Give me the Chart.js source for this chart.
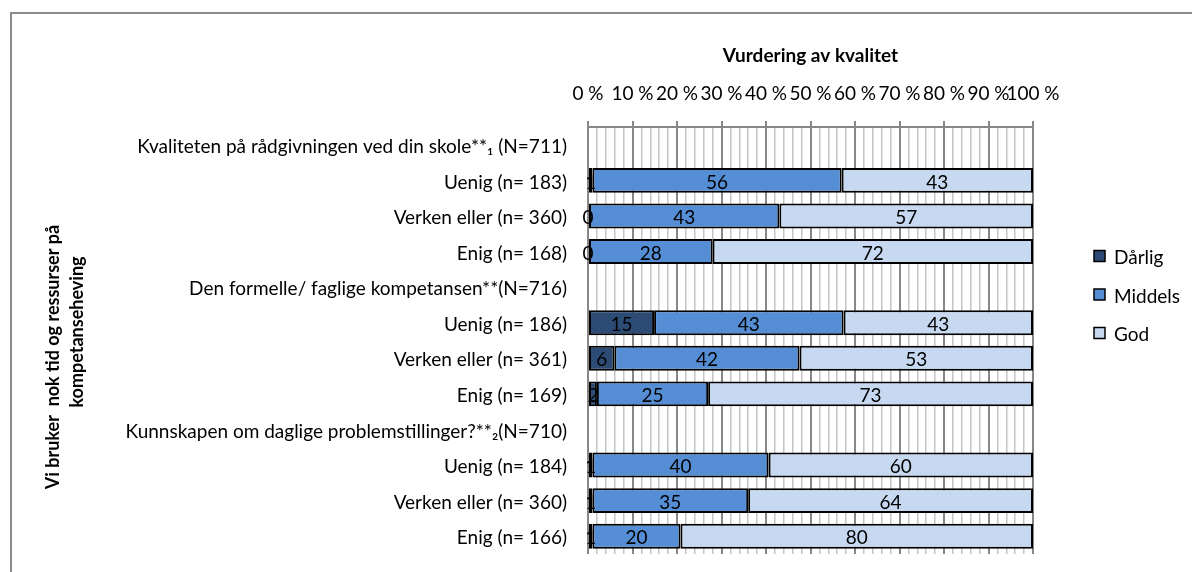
<!DOCTYPE html>
<html>
<head>
<meta charset="utf-8">
<script src="https://cdn.jsdelivr.net/npm/chart.js@4.4.1/dist/chart.umd.min.js"></script>
<style>
  html, body { margin: 0; padding: 0; background: #fff; }
  #wrap { position: relative; width: 1192px; height: 572px; overflow: hidden; }
  #frame { position: absolute; left: 10px; top: 12px; width: 1300px; height: 700px;
           border-left: 2px solid #8c8c8c; border-top: 2px solid #8c8c8c; }
  canvas { position: absolute; left: 0; top: 0; }
</style>
</head>
<body>
<div id="wrap">
  <div id="frame"></div>
  <canvas id="chart" width="1192" height="572"></canvas>
</div>
<script>
// --- DATA ---
const categories = [
  "Kvaliteten på rådgivningen ved din skole**\u2081 (N=711)",
  "Uenig (n= 183)",
  "Verken eller (n= 360)",
  "Enig (n= 168)",
  "Den formelle/ faglige kompetansen**(N=716)",
  "Uenig (n= 186)",
  "Verken eller (n= 361)",
  "Enig (n= 169)",
  "Kunnskapen om daglige problemstillinger?**\u2082(N=710)",
  "Uenig (n= 184)",
  "Verken eller (n= 360)",
  "Enig (n= 166)"
];
const seriesNames = ["Dårlig", "Middels", "God"];
const darlig  = [null, 1, 0, 0, null, 15, 6, 2, null, 1, 1, 1];
const middels = [null, 56, 43, 28, null, 43, 42, 25, null, 40, 35, 20];
const god     = [null, 43, 57, 72, null, 43, 53, 73, null, 60, 64, 80];
const xTicks = [0, 10, 20, 30, 40, 50, 60, 70, 80, 90, 100];
const yTitle = ["Vi bruker  nok tid og ressurser på", "kompetanseheving"];

const FONT = "Lato, 'Open Sans', sans-serif";

// rows are shown as 100 % stacked, like the original
const rowTotals = categories.map((c, i) =>
  darlig[i] == null ? null : darlig[i] + middels[i] + god[i]);
const toShare = (arr) => arr.map((v, i) => v == null ? null : v / rowTotals[i] * 100);

// textured navy fill for "Dårlig"
function makePattern() {
  const p = document.createElement("canvas");
  p.width = 4; p.height = 4;
  const c = p.getContext("2d");
  c.fillStyle = "#2d4d76";
  c.fillRect(0, 0, 4, 4);
  c.fillStyle = "#24416a";
  c.fillRect(0, 0, 1, 1);
  c.fillRect(2, 2, 1, 1);
  return c.createPattern(p, "repeat");
}
const darligFill = makePattern();
const colors = [darligFill, "#558ed5", "#c6d9f1"];
const swatch = ["#2b4a72", "#558ed5", "#c6d9f1"];
const rawSeries = [darlig, middels, god];

// --- PLUGINS ---
const valueLabels = {
  id: "valueLabels",
  afterDatasetsDraw(chart) {
    const ctx = chart.ctx;
    ctx.save();
    ctx.font = "19px " + FONT;
    ctx.fillStyle = "#000";
    ctx.textAlign = "center";
    ctx.textBaseline = "middle";
    chart.data.datasets.forEach((ds, di) => {
      const meta = chart.getDatasetMeta(di);
      meta.data.forEach((el, i) => {
        const raw = rawSeries[di][i];
        if (raw == null) return;
        ctx.fillText(String(raw), (el.x + el.base) / 2, el.y + 2);
      });
    });
    ctx.restore();
  }
};

// two-line rotated axis title, each line placed like in the original
const sideTitle = {
  id: "sideTitle",
  afterDraw(chart) {
    const ctx = chart.ctx;
    const spots = [[53, 357], [77, 332]];
    ctx.save();
    ctx.font = "bold 18px " + FONT;
    ctx.fillStyle = "#000";
    ctx.textAlign = "center";
    ctx.textBaseline = "middle";
    yTitle.forEach((line, i) => {
      ctx.save();
      ctx.translate(spots[i][0], spots[i][1]);
      ctx.rotate(-Math.PI / 2);
      ctx.fillText(line, 0, 0);
      ctx.restore();
    });
    ctx.restore();
  }
};

const sideLegend = {
  id: "sideLegend",
  afterDraw(chart) {
    const ctx = chart.ctx;
    ctx.save();
    ctx.font = "19px " + FONT;
    ctx.textBaseline = "middle";
    ctx.textAlign = "left";
    seriesNames.forEach((name, i) => {
      const y = 256 + i * 38.5;
      ctx.fillStyle = swatch[i];
      ctx.fillRect(1094, y - 5.5, 11, 11);
      ctx.strokeStyle = "#000";
      ctx.lineWidth = 1.5;
      ctx.strokeRect(1094, y - 5.5, 11, 11);
      ctx.fillStyle = "#000";
      ctx.fillText(name, 1114, y + 2);
    });
    ctx.restore();
  }
};

// --- CHART ---
const isMajor = (v) => v % 10 === 0;

new Chart(document.getElementById("chart"), {
  type: "bar",
  data: {
    labels: categories,
    datasets: seriesNames.map((name, i) => ({
      label: name,
      data: toShare(rawSeries[i]),
      backgroundColor: colors[i],
      borderColor: "#000",
      borderWidth: 2,
      borderSkipped: false,
      categoryPercentage: 1,
      barPercentage: 0.7
    }))
  },
  options: {
    indexAxis: "y",
    responsive: false,
    animation: false,
    layout: { padding: { left: 0, top: 0, right: 159, bottom: 18 } },
    plugins: {
      legend: { display: false },
      tooltip: { enabled: false }
    },
    scales: {
      x: {
        position: "top",
        stacked: true,
        min: 0,
        max: 100,
        afterFit: (s) => { s.height = 127; s.paddingLeft = 0; s.paddingRight = 0; },
        ticks: {
          stepSize: 2,
          autoSkip: false,
          maxRotation: 0,
          padding: 16,
          color: "#000",
          font: { family: FONT, size: 19 },
          callback: (v) => isMajor(v) ? v + " %" : ""
        },
        grid: {
          color: (c) => isMajor(c.tick.value) ? "#878787" : "#c4c4c4",
          lineWidth: (c) => isMajor(c.tick.value) ? 2 : 1.5,
          tickColor: (c) => isMajor(c.tick.value) ? "#878787" : "rgba(0,0,0,0)",
          tickLength: 6
        },
        border: { display: true, color: "#878787", width: 2 },
        title: {
          display: true,
          text: "Vurdering av kvalitet",
          color: "#000",
          font: { family: FONT, size: 19, weight: "bold" },
          padding: { top: 44, bottom: 0 }
        }
      },
      y: {
        stacked: true,
        afterFit: (s) => { s.width = 588; s.paddingTop = 0; s.paddingBottom = 0; },
        grid: { display: false },
        border: { display: false },
        ticks: {
          padding: 13,
          labelOffset: 2,
          color: "#000",
          font: { family: FONT, size: 19 }
        }
      }
    }
  },
  plugins: [valueLabels, sideTitle, sideLegend]
});
</script>
</body>
</html>
